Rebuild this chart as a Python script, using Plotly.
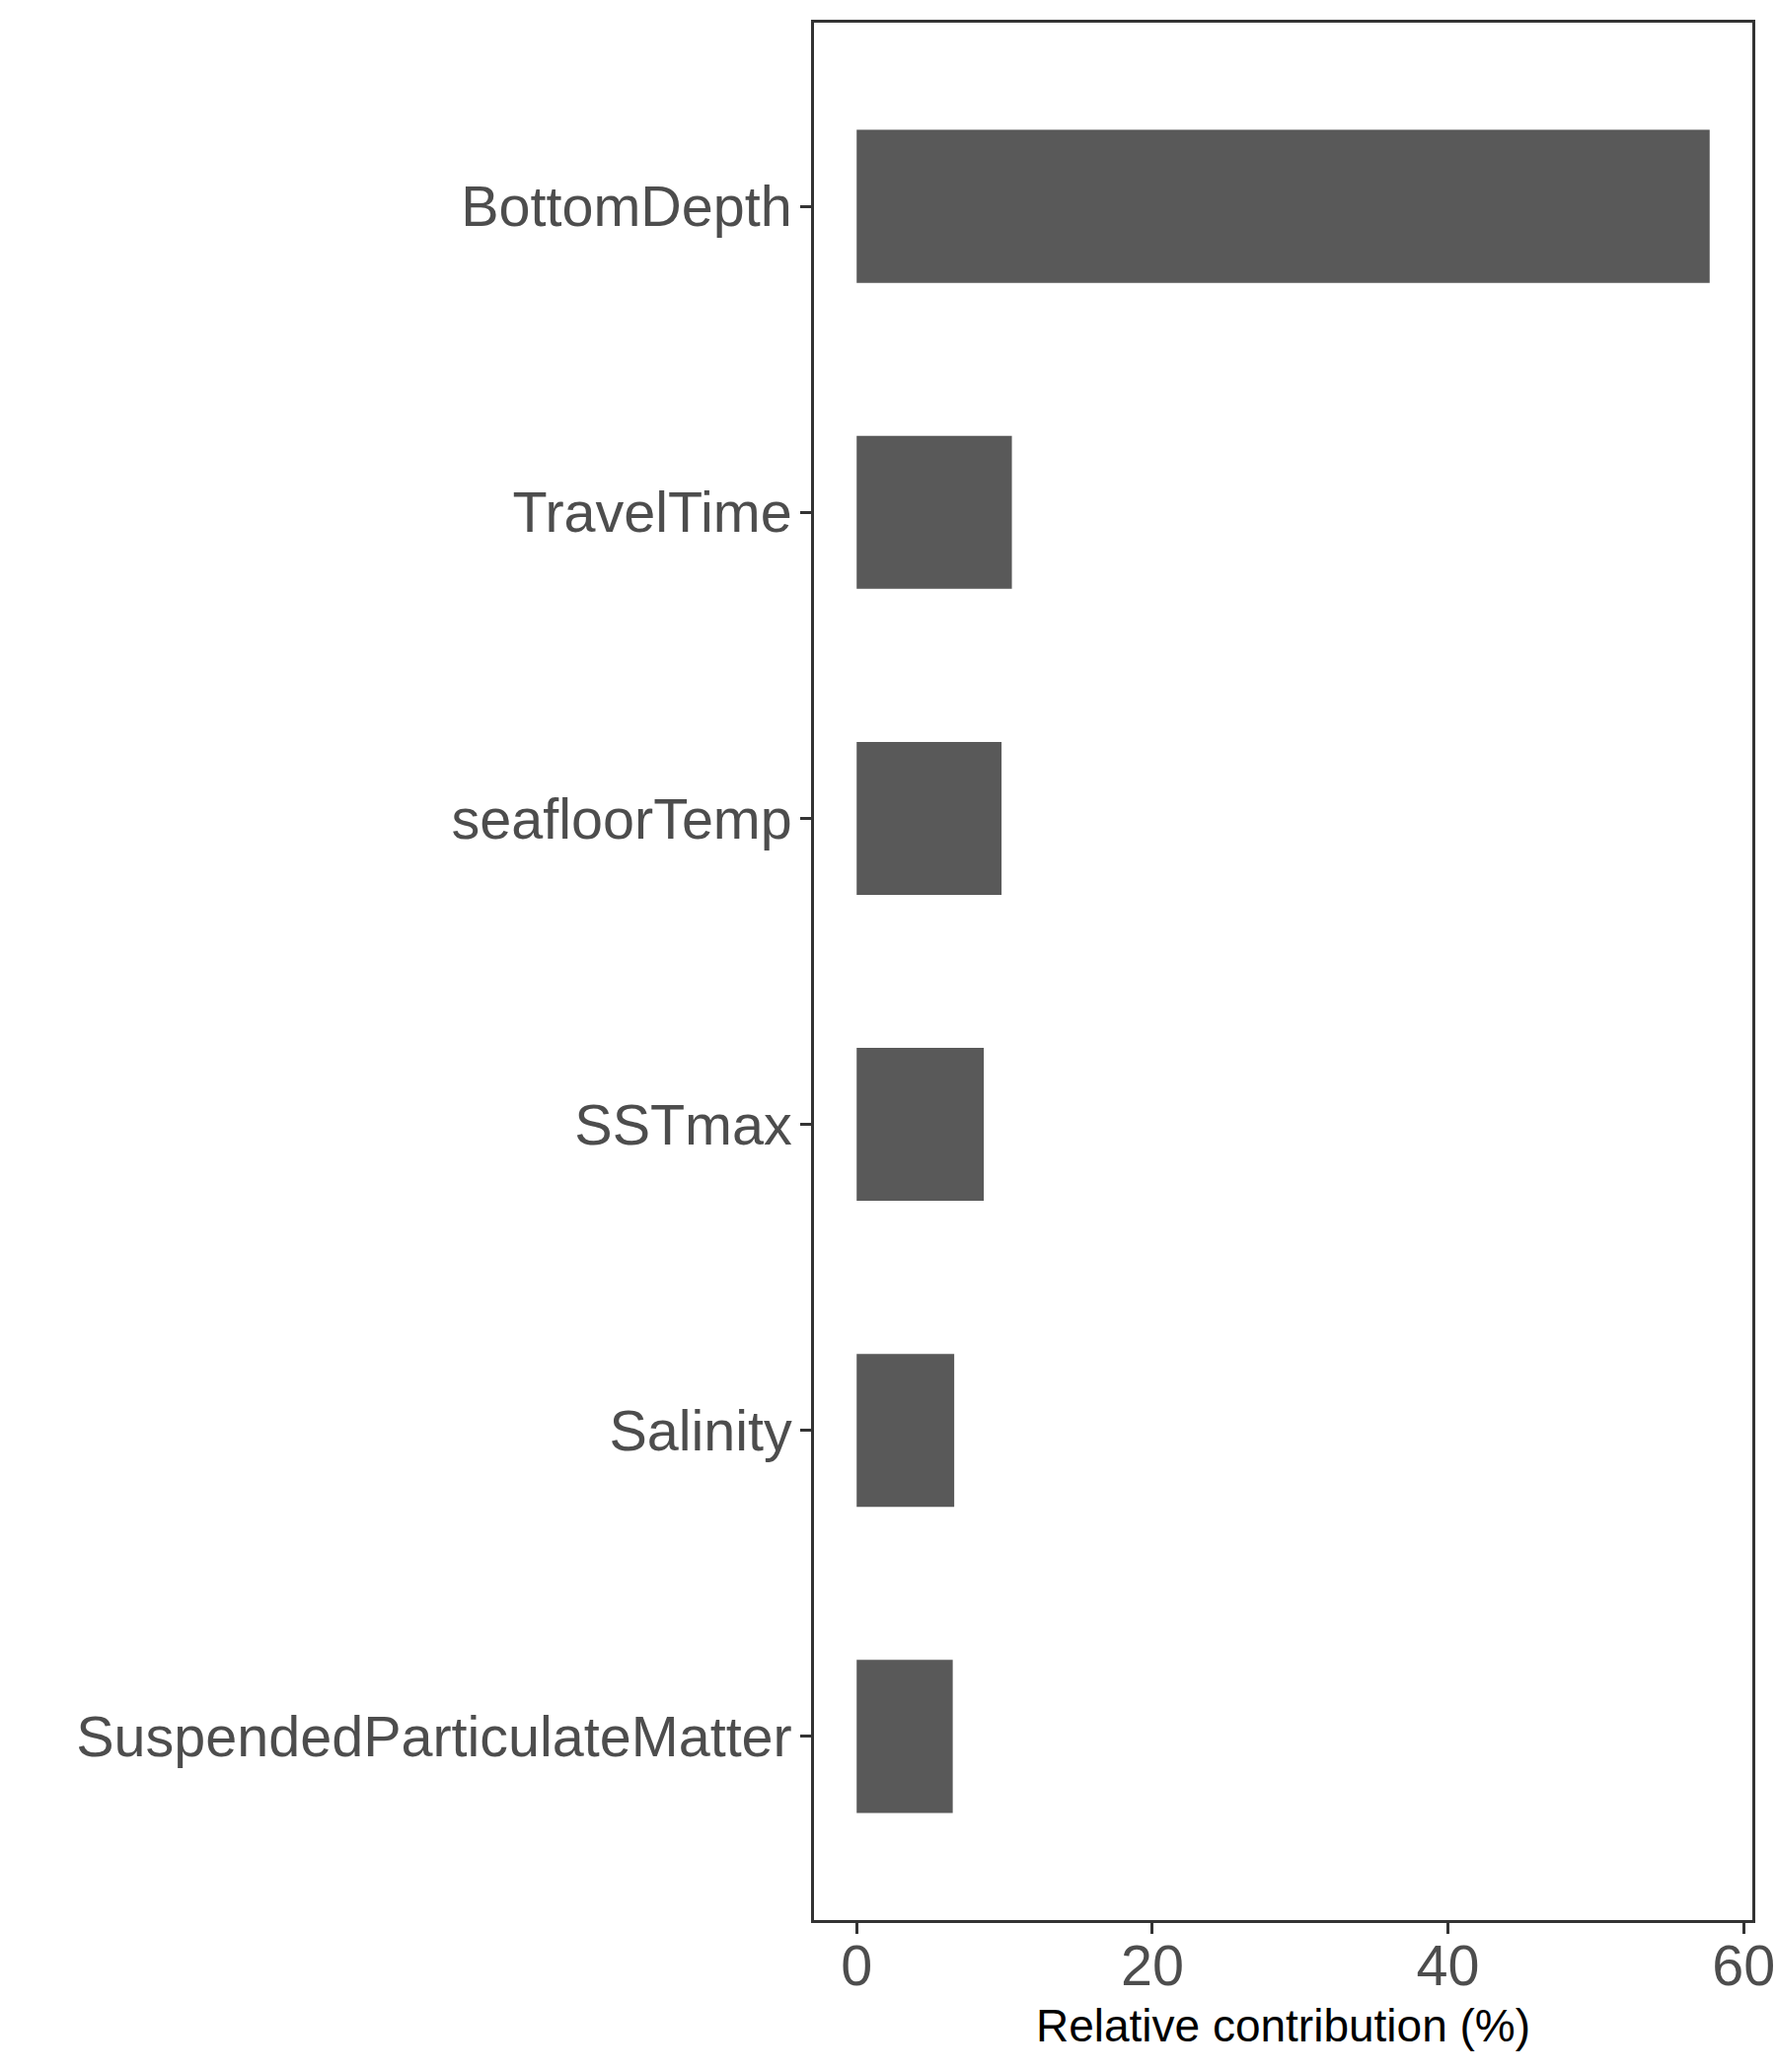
import plotly.graph_objects as go

variables = ["BottomDepth", "TravelTime", "seafloorTemp", "SSTmax", "Salinity", "SuspendedParticulateMatter"]
contribution = [57.7, 10.5, 9.8, 8.6, 6.6, 6.5]
x_ticks = [0, 20, 40, 60]

fig = go.Figure(go.Bar(
    x=contribution,
    y=variables,
    orientation="h",
    width=0.5,
    marker=dict(color="#595959", line=dict(width=0)),
))

font_family = "Liberation Sans, Arial, sans-serif"

fig.update_layout(
    width=1800,
    height=2100,
    margin=dict(l=825, r=24, t=23, b=154, autoexpand=False),
    plot_bgcolor="white",
    paper_bgcolor="white",
    showlegend=False,
    font=dict(family=font_family),
    xaxis=dict(
        range=[-0.05 * 57.7, 1.05 * 57.7],
        tickvals=x_ticks,
        ticktext=[str(v) for v in x_ticks],
        automargin=False,
        showgrid=False,
        zeroline=False,
        showline=True,
        mirror=True,
        linecolor="#333333",
        linewidth=2.5,
        ticks="outside",
        ticklen=11,
        tickwidth=3,
        tickcolor="#333333",
        ticklabelstandoff=-17,
        ticklabeloverflow="allow",
        tickfont=dict(size=57.5, color="#4d4d4d", family=font_family),
        title=dict(text="Relative contribution (%)", font=dict(size=46, color="black", family=font_family), standoff=15),
    ),
    yaxis=dict(
        categoryorder="array",
        categoryarray=variables,
        range=[5.6, -0.6],
        automargin=False,
        showgrid=False,
        zeroline=False,
        showline=True,
        mirror=True,
        linecolor="#333333",
        linewidth=2.5,
        ticks="outside",
        ticklen=11,
        tickwidth=3,
        tickcolor="#333333",
        ticklabelstandoff=-3,
        tickfont=dict(size=57.5, color="#4d4d4d", family=font_family),
    ),
)

fig.write_html(
    "out.html",
    config={"displayModeBar": False},
    post_script="document.body.style.margin='0';document.body.style.overflow='hidden';",
)
